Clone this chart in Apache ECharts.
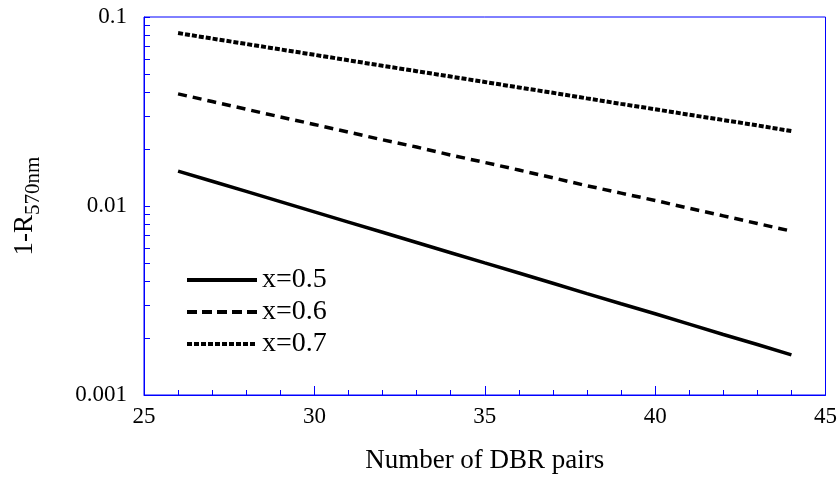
<!DOCTYPE html>
<html>
<head>
<meta charset="utf-8">
<script src="https://cdn.jsdelivr.net/npm/echarts@6/dist/echarts.min.js"></script>
<style>
html, body { margin: 0; padding: 0; background: #fff; }
#chart { width: 840px; height: 479px; }
</style>
</head>
<body>
<div id="chart"></div>
<script>
// DBR pairs
var pairs = [26, 27, 28, 29, 30, 31, 32, 33, 34, 35, 36, 37, 38, 39, 40, 41, 42, 43, 44];

// 1-R at 570nm for each Al fraction
var x05 = [0.0153, 0.01352, 0.01194, 0.01054, 0.00931, 0.00822, 0.00726, 0.00641, 0.00566, 0.00500,
	0.00442, 0.00390, 0.00344, 0.00304, 0.00269, 0.00237, 0.00209, 0.00185, 0.00163];
var x06 = [0.0392, 0.0357, 0.0325, 0.0296, 0.0270, 0.0246, 0.0224, 0.0205, 0.0186, 0.0170,
	0.0155, 0.0141, 0.0128, 0.0117, 0.0107, 0.00973, 0.00887, 0.00808, 0.00736];
var x07 = [0.0822, 0.0769, 0.0720, 0.0674, 0.0631, 0.0590, 0.0552, 0.0517, 0.0484, 0.0453,
	0.0424, 0.0397, 0.0371, 0.0347, 0.0325, 0.0304, 0.0285, 0.0267, 0.0249];

var seriesNames = ['x=0.5', 'x=0.6', 'x=0.7'];
var yLabels = [0.001, 0.01, 0.1];
var yTicks = [0.001, 0.002, 0.003, 0.004, 0.005, 0.006, 0.007, 0.008, 0.009,
	0.01, 0.02, 0.03, 0.04, 0.05, 0.06, 0.07, 0.08, 0.09, 0.1];

function pts(ys) {
	var out = [];
	for (var i = 0; i < pairs.length; i++) {
		out.push([pairs[i], ys[i]]);
	}
	return out;
}

var font = 'Liberation Serif';
var blue = '#0000ff';
var dashes = ['solid', [10, 5], [5, 2]];

var chart = echarts.init(document.getElementById('chart'));

var option = {
	animation : false,
	textStyle : { fontFamily : font },
	grid : {
		left : 144,
		right : 12,
		top : 17,
		bottom : 84,
		show : true,
		borderColor : blue,
		borderWidth : 1
	},
	legend : {
		orient : 'vertical',
		left : 180,
		top : 261,
		itemWidth : 70,
		itemHeight : 28,
		itemGap : 4,
		itemStyle : { opacity : 0 },
		textStyle : { fontFamily : font, fontSize : 28, color : '#000' },
		data : [
			{ name : seriesNames[0], lineStyle : { width : 4, type : dashes[0] } },
			{ name : seriesNames[1], lineStyle : { width : 4, type : dashes[1] } },
			{ name : seriesNames[2], lineStyle : { width : 4, type : dashes[2] } }
		]
	},
	xAxis : {
		type : 'value',
		min : 25,
		max : 45,
		interval : 5,
		name : 'Number of DBR pairs',
		nameLocation : 'middle',
		nameGap : 52,
		nameTextStyle : { fontFamily : font, fontSize : 27, color : '#000' },
		axisLine : { lineStyle : { color : blue, width : 1 } },
		axisTick : { inside : true, length : 9, lineStyle : { color : blue } },
		minorTick : { show : true, splitNumber : 5, length : 5, lineStyle : { color : blue } },
		axisLabel : { fontFamily : font, fontSize : 23, color : '#000', margin : 10 },
		splitLine : { show : false }
	},
	yAxis : {
		type : 'log',
		logBase : 10,
		min : 0.001,
		max : 0.1,
		name : '{a|1-R}{b|570nm}',
		nameLocation : 'middle',
		nameRotate : 90,
		nameGap : 100,
		nameTextStyle : {
			color : '#000',
			rich : {
				a : { fontFamily : font, fontSize : 27, color : '#000' },
				b : { fontFamily : font, fontSize : 21, color : '#000', padding : [18, 0, 0, 0] }
			}
		},
		axisLine : { lineStyle : { color : blue, width : 1 } },
		axisTick : { inside : true, length : 6, lineStyle : { color : blue }, customValues : yTicks },
		axisLabel : {
			fontFamily : font, fontSize : 23, color : '#000', margin : 17,
			customValues : yLabels,
			formatter : function(v) { return String(v); }
		},
		splitLine : { show : false }
	},
	series : [ {
		name : seriesNames[0],
		type : 'line',
		data : pts(x05),
		symbol : 'none',
		color : '#000',
		lineStyle : { color : '#000', width : 3.5, type : dashes[0] }
	}, {
		name : seriesNames[1],
		type : 'line',
		data : pts(x06),
		symbol : 'none',
		color : '#000',
		lineStyle : { color : '#000', width : 3.5, type : [9, 6] }
	}, {
		name : seriesNames[2],
		type : 'line',
		data : pts(x07),
		symbol : 'none',
		color : '#000',
		lineStyle : { color : '#000', width : 4, type : dashes[2] }
	} ]
};

chart.setOption(option);
</script>
</body>
</html>
